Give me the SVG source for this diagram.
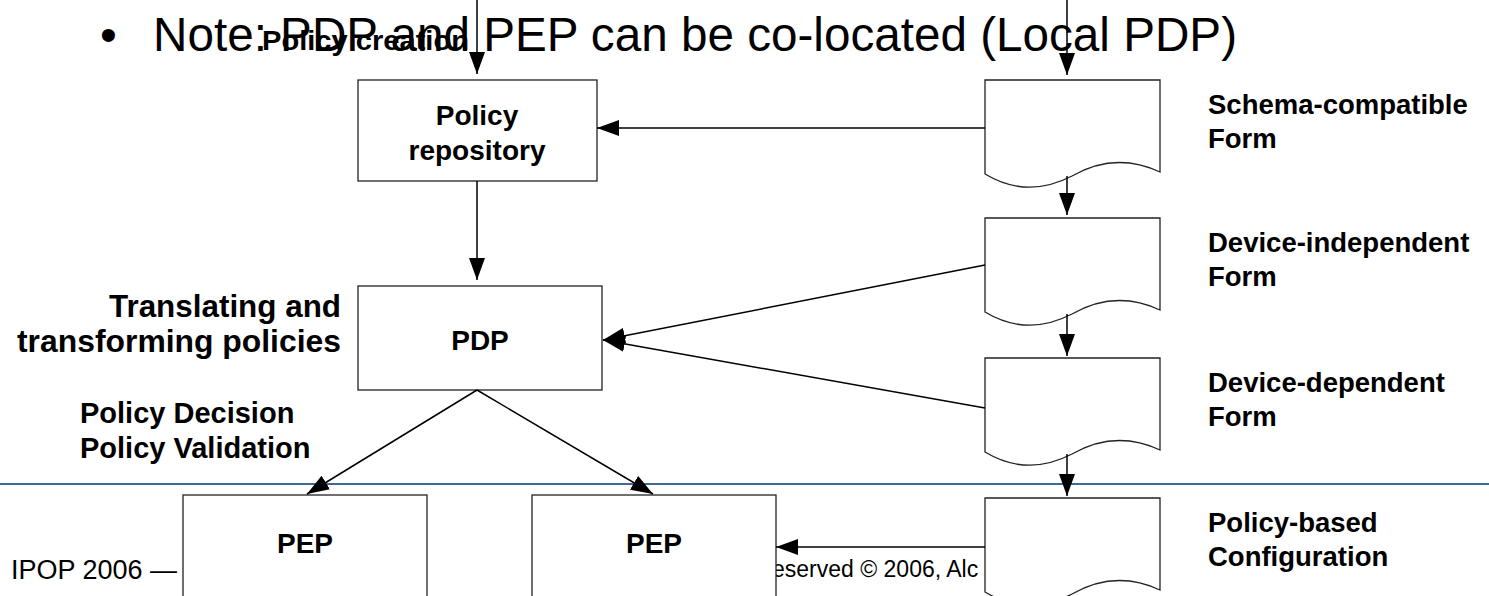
<svg xmlns="http://www.w3.org/2000/svg" width="1489" height="596" viewBox="0 0 1489 596">
  <style>
    .box { fill: #ffffff; stroke: #222222; stroke-width: 1.3; }
    .lbl { font-family: "Liberation Sans", Arial, sans-serif; font-weight: bold; fill: #000000; }
    .in { font-size: 28px; text-anchor: middle; }
    .side { font-size: 27.5px; }
    .left { font-size: 31px; }
    .note { font-size: 29px; }
    .title { font-family: "Liberation Sans", Arial, sans-serif; font-size: 48px; fill: #000000; }
    .foot { font-family: "Liberation Sans", Arial, sans-serif; fill: #000000; }
    .wire { fill: none; stroke: #000000; stroke-width: 1.5; marker-end: url(#arrow); }
  </style>
  <defs>
    <marker id="arrow" markerUnits="userSpaceOnUse" viewBox="0 0 22 16" refX="22" refY="8" markerWidth="22" markerHeight="16" orient="auto">
      <path d="M0,0 L22,8 L0,16 z" fill="#000000"/>
    </marker>
  </defs>

  <rect width="1489" height="596" fill="#ffffff"/>

  <!-- slide title -->
  <g id="title">
    <text class="title" x="100" y="51">•</text>
    <text class="title" x="153" y="51" textLength="1084" lengthAdjust="spacingAndGlyphs">Note: PDP and PEP can be co-located (Local PDP)</text>
  </g>

  <!-- slide rule and footer -->
  <line x1="0" y1="484" x2="1489" y2="484" stroke="#3d6b96" stroke-width="2"/>
  <g id="footer">
    <text class="foot" x="11" y="579" font-size="27">IPOP 2006 —</text>
    <text class="foot" x="772" y="577" font-size="23">eserved © 2006, Alc</text>
  </g>

  <!-- annotations -->
  <g id="label-creation">
    <text class="lbl" x="262" y="50" font-size="28" textLength="207" lengthAdjust="spacingAndGlyphs">Policy creation</text>
  </g>
  <g id="label-translating">
    <text class="lbl left" x="341" y="317" text-anchor="end" textLength="232" lengthAdjust="spacingAndGlyphs">Translating and</text>
    <text class="lbl left" x="341" y="352" text-anchor="end" textLength="324" lengthAdjust="spacingAndGlyphs">transforming policies</text>
  </g>
  <g id="label-decision">
    <text class="lbl note" x="80" y="423">Policy Decision</text>
    <text class="lbl note" x="80" y="458">Policy Validation</text>
  </g>

  <!-- policy repository -->
  <g id="repository">
    <rect class="box" x="358" y="80" width="239" height="101"/>
    <text class="lbl in" x="477" y="125">Policy</text>
    <text class="lbl in" x="477" y="160">repository</text>
  </g>

  <!-- decision point -->
  <g id="pdp">
    <rect class="box" x="358" y="286" width="244" height="104"/>
    <text class="lbl in" x="480" y="350">PDP</text>
  </g>

  <!-- enforcement points -->
  <g id="pep1">
    <rect class="box" x="183" y="495" width="244" height="110"/>
    <text class="lbl in" x="305" y="553">PEP</text>
  </g>
  <g id="pep2">
    <rect class="box" x="532" y="495" width="244" height="110"/>
    <text class="lbl in" x="654" y="553">PEP</text>
  </g>

  <!-- policy forms (document shapes) -->
  <g id="doc-schema">
    <path class="box" d="M985,80 H1160 V172 C1130,158 1100,160 1072,176 C1045,190 1015,192 985,174 Z"/>
    <text class="lbl side" x="1208" y="114">Schema-compatible</text>
    <text class="lbl side" x="1208" y="148">Form</text>
  </g>
  <g id="doc-independent">
    <path class="box" d="M985,218 H1160 V310 C1130,296 1100,298 1072,314 C1045,328 1015,330 985,312 Z"/>
    <text class="lbl side" x="1208" y="252">Device-independent</text>
    <text class="lbl side" x="1208" y="286">Form</text>
  </g>
  <g id="doc-dependent">
    <path class="box" d="M985,358 H1160 V450 C1130,436 1100,438 1072,454 C1045,468 1015,470 985,452 Z"/>
    <text class="lbl side" x="1208" y="392">Device-dependent</text>
    <text class="lbl side" x="1208" y="426">Form</text>
  </g>
  <g id="doc-config">
    <path class="box" d="M985,498 H1160 V590 C1130,576 1100,578 1072,594 C1045,608 1015,610 985,592 Z"/>
    <text class="lbl side" x="1208" y="532">Policy-based</text>
    <text class="lbl side" x="1208" y="566">Configuration</text>
  </g>

  <!-- connectors -->
  <g id="connectors">
    <line class="wire" x1="477" y1="0" x2="477" y2="74"/>
    <line class="wire" x1="1067" y1="0" x2="1067" y2="75"/>
    <line class="wire" x1="985" y1="128" x2="597" y2="128"/>
    <line class="wire" x1="477" y1="181" x2="477" y2="280"/>
    <line class="wire" x1="1067" y1="176" x2="1067" y2="215"/>
    <line class="wire" x1="1067" y1="314" x2="1067" y2="356"/>
    <line class="wire" x1="1067" y1="454" x2="1067" y2="496"/>
    <line class="wire" x1="985" y1="265" x2="603" y2="340"/>
    <line class="wire" x1="985" y1="408" x2="603" y2="340"/>
    <line class="wire" x1="477" y1="390" x2="307" y2="494"/>
    <line class="wire" x1="477" y1="390" x2="653" y2="494"/>
    <line class="wire" x1="985" y1="547" x2="776" y2="547"/>
  </g>
</svg>
